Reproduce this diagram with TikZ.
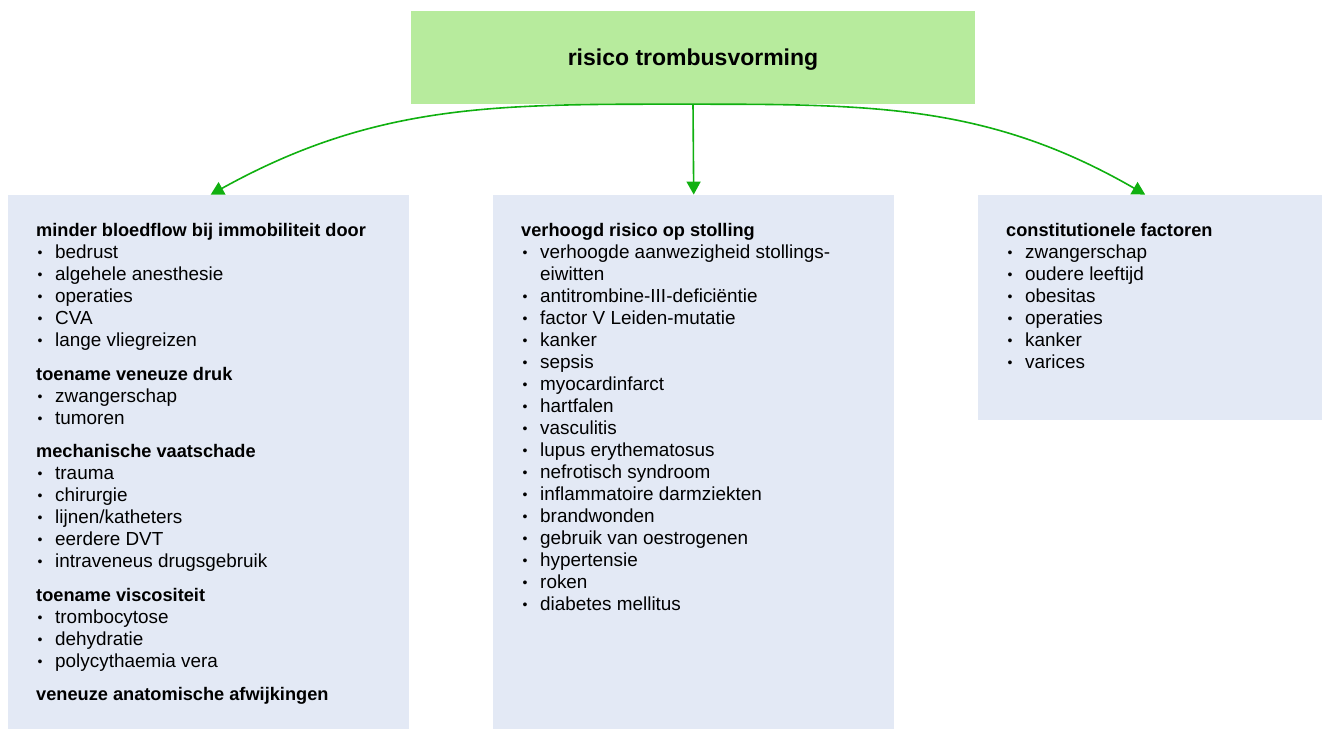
\documentclass[tikz,border=0pt]{standalone}
\usepackage{fontspec}
\setmainfont{Liberation Sans}
\usetikzlibrary{arrows.meta}

\definecolor{topgreen}{HTML}{B7EB9D}
\definecolor{boxblue}{HTML}{E3E9F5}
\definecolor{linkgreen}{HTML}{10B010}

\newcommand{\bul}{\makebox[19pt][l]{\hspace{1.5pt}\raisebox{1.2pt}{\fontsize{14}{14}\selectfont\textbullet}}}
\newcommand{\nobul}{\makebox[19pt][l]{}}
\newcommand{\hdr}[1]{{\fontsize{18.2}{22}\selectfont\bfseries #1}}
\newcommand{\firstline}{\rule{0pt}{16pt}}

\begin{document}
\begin{tikzpicture}[x=1pt, y=1pt,
    blockbox/.style={fill=boxblue, draw=none, inner sep=0, anchor=south west},
    listtext/.style={anchor=north west, inner sep=0, align=left,
      font=\fontsize{18.9}{22}\selectfont},
    link/.style={draw=linkgreen, line width=1.6pt,
      -{Triangle[length=13pt, width=14pt]}}]
    \useasboundingbox (0,0) rectangle (1322,729);
    % Top box
    \node[fill=topgreen, minimum width=564pt, minimum height=93pt, inner sep=0,
      font=\fontsize{23}{26}\selectfont\bfseries] (title) at (693,671.5) {\raisebox{-2pt}[\height][\depth]{risico trombusvorming}};
    % Three boxes below
    \node[blockbox, minimum width=401pt, minimum height=534pt] (leftbox) at (8,0) {};
    \node[blockbox, minimum width=401pt, minimum height=534pt] (midbox) at (493,0) {};
    \node[blockbox, minimum width=344pt, minimum height=225pt] (rightbox) at (978,309) {};
    % Left list
    \node[listtext] (lefttext) at (36,508.5) {\firstline\hdr{minder bloedflow bij immobiliteit door}\\
      \bul bedrust\\
      \bul algehele anesthesie\\
      \bul operaties\\
      \bul CVA\\
      \bul lange vliegreizen\\[11.5pt]
      \hdr{toename veneuze druk}\\
      \bul zwangerschap\\
      \bul tumoren\\[11.5pt]
      \hdr{mechanische vaatschade}\\
      \bul trauma\\
      \bul chirurgie\\
      \bul lijnen/katheters\\
      \bul eerdere DVT\\
      \bul intraveneus drugsgebruik\\[11.5pt]
      \hdr{toename viscositeit}\\
      \bul trombocytose\\
      \bul dehydratie\\
      \bul polycythaemia vera\\[11.5pt]
      \hdr{veneuze anatomische afwijkingen}};
    % Middle list
    \node[listtext] (midtext) at (521,508.5) {\firstline\hdr{verhoogd risico op stolling}\\
      \bul verhoogde aanwezigheid stollings-\\
      \nobul eiwitten\\
      \bul antitrombine-III-deficiëntie\\
      \bul factor V Leiden-mutatie\\
      \bul kanker\\
      \bul sepsis\\
      \bul myocardinfarct\\
      \bul hartfalen\\
      \bul vasculitis\\
      \bul lupus erythematosus\\
      \bul nefrotisch syndroom\\
      \bul inflammatoire darmziekten\\
      \bul brandwonden\\
      \bul gebruik van oestrogenen\\
      \bul hypertensie\\
      \bul roken\\
      \bul diabetes mellitus};
    % Right list
    \node[listtext] (righttext) at (1006,508.5) {\firstline\hdr{constitutionele factoren}\\
      \bul zwangerschap\\
      \bul oudere leeftijd\\
      \bul obesitas\\
      \bul operaties\\
      \bul kanker\\
      \bul varices};
    % Arrows
    \draw[link] (title.south) -- (midbox.north);
    \draw[link] (title.south) to[out=180, in=29] ([xshift=2pt]leftbox.north);
    \draw[link] (title.south) to[out=0, in=150] ([xshift=-5pt]rightbox.north);
\end{tikzpicture}
\end{document}
